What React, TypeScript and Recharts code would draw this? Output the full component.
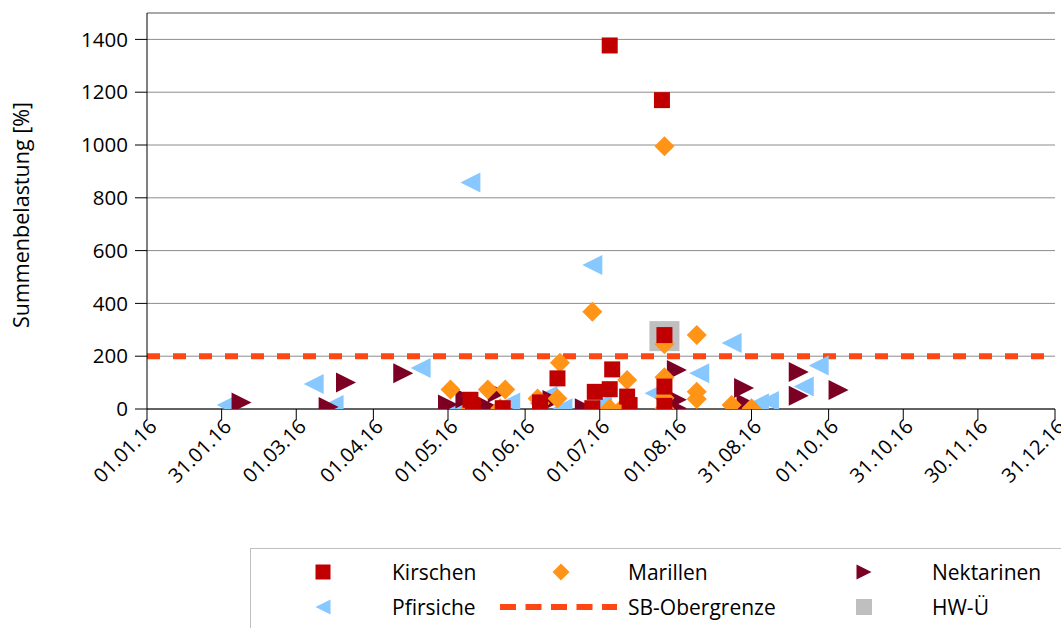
import { ScatterChart, Scatter, XAxis, YAxis, CartesianGrid, ReferenceLine } from "recharts";

// x = Tag seit 01.01.16 (0 = 01.01.16), y = Summenbelastung [%]
const DAY_TICKS = [0, 30, 60, 91, 121, 152, 182, 213, 243, 274, 304, 334, 365];
const DAY_LABELS = [
  "01.01.16", "31.01.16", "01.03.16", "01.04.16", "01.05.16", "01.06.16", "01.07.16",
  "01.08.16", "31.08.16", "01.10.16", "31.10.16", "30.11.16", "31.12.16",
];
const Y_TICKS = [0, 200, 400, 600, 800, 1000, 1200, 1400];
const Y_MAX = 1500;
const SB_LIMIT = 200;

const kirschen: [number, number][] = [
  [130, 35], [131, 12], [143, 3], [158, 25], [158, 5], [165, 116], [179, 3], [180, 65],
  [186, 75], [186, 1377], [187, 150], [193, 47], [194, 15], [207, 1170], [208, 280],
  [208, 85], [208, 12],
];
const marillen: [number, number][] = [
  [122, 74], [130, 3], [137, 74], [142, 3], [144, 74], [157, 40], [158, 22], [165, 40],
  [166, 175], [179, 368], [186, 2], [191, 4], [193, 110], [208, 995], [208, 245],
  [208, 120], [208, 42], [208, 2], [221, 280], [221, 65], [221, 38], [235, 15], [243, 3],
];
const nektarinen: [number, number][] = [
  [38, 25], [73, 8], [80, 100], [103, 135], [121, 17], [128, 40], [137, 9], [141, 62],
  [161, 22], [163, 34], [176, 3], [213, 148], [213, 35], [213, 3], [240, 80], [241, 20],
  [262, 140], [262, 50], [278, 72],
];
const pfirsiche: [number, number][] = [
  [32, 15], [67, 95], [75, 15], [110, 155], [124, 2], [130, 858], [146, 25], [161, 50],
  [167, 3], [179, 545], [183, 20], [204, 60], [222, 135], [235, 250], [244, 5], [246, 22],
  [250, 30], [264, 85], [270, 165],
];
const hwUe: [number, number][] = [[208, 276]];

const C_KIRSCHEN = "#C00000";
const C_MARILLEN = "#FF9416";
const C_NEKTARINEN = "#7C0024";
const C_PFIRSICHE = "#86C8FF";
const C_SB = "#FF4713";
const C_HW = "#BFBFBF";
const FONT = "'Open Sans', sans-serif";

const toPoints = (arr: [number, number][]) => arr.map(([x, y]) => ({ x, y }));

const squareShape = (size: number, fill: string) => (p: any) => (
  <rect x={p.cx - size / 2} y={p.cy - size / 2} width={size} height={size} fill={fill} />
);
const diamondShape = (size: number, fill: string) => (p: any) => {
  const h = size / 2;
  return <polygon points={`${p.cx},${p.cy - h} ${p.cx + h},${p.cy} ${p.cx},${p.cy + h} ${p.cx - h},${p.cy}`} fill={fill} />;
};
const triRightShape = (size: number, fill: string) => (p: any) => {
  const h = size / 2;
  return <polygon points={`${p.cx - h},${p.cy - h} ${p.cx + h},${p.cy} ${p.cx - h},${p.cy + h}`} fill={fill} />;
};
const triLeftShape = (size: number, fill: string) => (p: any) => {
  const h = size / 2;
  return <polygon points={`${p.cx + h},${p.cy - h} ${p.cx - h},${p.cy} ${p.cx + h},${p.cy + h}`} fill={fill} />;
};

function XTick({ x, y, payload }: any) {
  const i = DAY_TICKS.indexOf(payload.value);
  const px = x + 11;
  const py = y + 6;
  return (
    <text x={px} y={py} transform={`rotate(-45, ${px}, ${py})`} textAnchor="end"
      fontSize={20} fill="#000" fontFamily={FONT}>
      {DAY_LABELS[i]}
    </text>
  );
}

function LegendBox() {
  const t = { fontSize: 21, fontFamily: FONT, fill: "#000", dominantBaseline: "central" as const };
  return (
    <svg width={1061} height={628} style={{ position: "absolute", left: 0, top: 0, pointerEvents: "none" }}>
      <text x={20} y={215} transform="rotate(-90, 20, 215)" textAnchor="middle"
        dominantBaseline="central" fontSize={21.5} fontFamily={FONT}>Summenbelastung [%]</text>
      <rect x={250.5} y={548.5} width={830} height={100} fill="none" stroke="#BFBFBF" />
      {squareShape(15, C_KIRSCHEN)({ cx: 323, cy: 572 })}
      <text x={392} y={572} {...t}>Kirschen</text>
      {diamondShape(17, C_MARILLEN)({ cx: 561, cy: 572 })}
      <text x={628} y={572} {...t}>Marillen</text>
      {triRightShape(15, C_NEKTARINEN)({ cx: 864, cy: 572 })}
      <text x={932} y={572} {...t}>Nektarinen</text>
      {triLeftShape(15, C_PFIRSICHE)({ cx: 323, cy: 607 })}
      <text x={392} y={607} {...t}>Pfirsiche</text>
      <line x1={500} y1={607} x2={617} y2={607} stroke={C_SB} strokeWidth={6} strokeDasharray="16 9.5" />
      <text x={628} y={607} {...t}>SB-Obergrenze</text>
      {squareShape(16, C_HW)({ cx: 864, cy: 607 })}
      <text x={932} y={607} {...t}>HW-Ü</text>
    </svg>
  );
}

export default function App() {
  return (
    <div style={{ position: "absolute", left: 0, top: 0, width: 1061, height: 628, background: "#fff", overflow: "hidden" }}>
      <ScatterChart width={1061} height={628} margin={{ top: 13, right: 6, bottom: 129, left: 7 }}>
        <CartesianGrid horizontal vertical={false} stroke="#8C8C8C" />
        <XAxis type="number" dataKey="x" domain={[0, 365]} ticks={DAY_TICKS} interval={0}
          height={90} tickSize={11} tick={<XTick />} axisLine={{ stroke: "#000" }}
          tickLine={{ stroke: "#000" }} allowDataOverflow />
        <YAxis type="number" dataKey="y" domain={[0, Y_MAX]} ticks={Y_TICKS} interval={0}
          width={140} tickSize={12} tickMargin={7} axisLine={{ stroke: "#000" }}
          tickLine={{ stroke: "#000" }}
          tick={{ fontSize: 20.5, fill: "#000", fontFamily: FONT }} allowDataOverflow />
        <ReferenceLine y={Y_MAX} stroke="#8C8C8C" />
        <Scatter name="HW-Ü" data={toPoints(hwUe)} shape={squareShape(30, C_HW)} isAnimationActive={false} />
        <Scatter name="Pfirsiche" data={toPoints(pfirsiche)} shape={triLeftShape(20, C_PFIRSICHE)} isAnimationActive={false} />
        <Scatter name="Nektarinen" data={toPoints(nektarinen)} shape={triRightShape(20, C_NEKTARINEN)} isAnimationActive={false} />
        <Scatter name="Marillen" data={toPoints(marillen)} shape={diamondShape(20, C_MARILLEN)} isAnimationActive={false} />
        <Scatter name="Kirschen" data={toPoints(kirschen)} shape={squareShape(16, C_KIRSCHEN)} isAnimationActive={false} />
        <ReferenceLine y={SB_LIMIT} stroke={C_SB} strokeWidth={6} strokeDasharray="13 13" />
      </ScatterChart>
      <LegendBox />
    </div>
  );
}
